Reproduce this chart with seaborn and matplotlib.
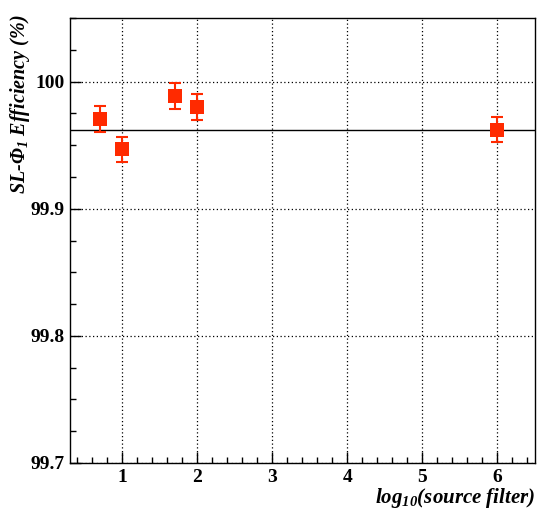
import matplotlib
matplotlib.use("Agg")
import matplotlib.pyplot as plt
from matplotlib.ticker import MultipleLocator
import seaborn as sns
import pandas as pd

# data
log_filter = [0.7, 1.0, 1.7, 2.0, 6.0]
efficiency = [99.9705, 99.9466, 99.9886, 99.9800, 99.9623]
eff_error = [0.0100, 0.0098, 0.0100, 0.0101, 0.0100]
mean_eff = 99.9623

df = pd.DataFrame({"x": log_filter, "y": efficiency, "err": eff_error})

sns.set_style("ticks")
plt.rcParams["font.family"] = ["Liberation Serif", "DejaVu Serif"]
plt.rcParams["mathtext.fontset"] = "custom"
plt.rcParams["mathtext.rm"] = "Liberation Serif:bold:italic"
plt.rcParams["mathtext.it"] = "Liberation Serif:bold:italic"
plt.rcParams["mathtext.bf"] = "Liberation Serif:bold:italic"

red = "#ff2a00"

fig = plt.figure(figsize=(5.37, 5.09), dpi=100)
ax = fig.add_axes([0.130, 0.0904, 0.866, 0.8742])

ax.grid(True, which="major", color="black", linestyle=(0, (1, 2)), linewidth=0.9)
ax.axhline(mean_eff, color="black", linewidth=1.0, zorder=2)

ax.errorbar(df["x"], df["y"], yerr=df["err"], fmt="none", ecolor=red,
            elinewidth=1.5, capsize=4.5, capthick=1.5, zorder=3)
sns.scatterplot(data=df, x="x", y="y", marker="s", s=90, color=red,
                edgecolor=red, linewidth=0, ax=ax, zorder=4)

ax.set_xlim(0.3, 6.5)
ax.set_ylim(99.7, 100.05)
ax.xaxis.set_major_locator(MultipleLocator(1))
ax.xaxis.set_minor_locator(MultipleLocator(0.2))
ax.yaxis.set_major_locator(MultipleLocator(0.1))
ax.yaxis.set_minor_locator(MultipleLocator(0.025))
ax.set_yticks([99.7, 99.8, 99.9, 100.0])
ax.set_yticklabels(["99.7", "99.8", "99.9", "100"])
ax.set_xticks([1, 2, 3, 4, 5, 6])
ax.set_xticklabels(["1", "2", "3", "4", "5", "6"])

ax.tick_params(which="both", direction="in", top=False, right=False,
               color="black", labelcolor="black")
ax.tick_params(which="major", length=8, width=1, labelsize=14)
ax.tick_params(axis="x", which="major", pad=4)
ax.tick_params(axis="y", which="major", pad=4)
ax.tick_params(which="minor", length=4, width=1)
for lab in ax.get_xticklabels() + ax.get_yticklabels():
    lab.set_fontweight("bold")

for side in ax.spines.values():
    side.set_color("black")
    side.set_linewidth(1.0)

ax.set_xlabel("")
ax.set_ylabel("")
fig.text(0.996, 0.011, "log$_{10}$(source filter)", ha="right", va="baseline",
         fontsize=15, fontweight="bold", fontstyle="italic", color="black")
fig.text(0.014, 0.972, "SL-Φ$_{1}$ Efficiency (%)", ha="left", va="top",
         rotation=90, fontsize=14.5, fontweight="bold", fontstyle="italic",
         color="black")

fig.savefig("out.png", dpi=100)
